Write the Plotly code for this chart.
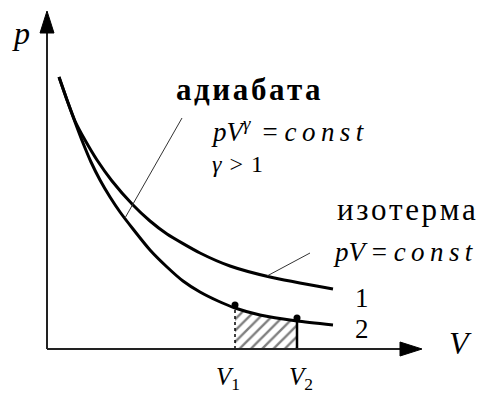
import plotly.graph_objects as go

# Curve 1: isotherm pV = const  (V, p in drawing units)
iso_V = [1.2, 2.0, 2.8, 3.8, 5.0, 6.5, 8.6, 10.3, 12.0, 15.3, 18.3, 22.3, 28.6]
iso_p = [27.2, 24.9, 22.8, 20.9, 18.9, 16.8, 14.4, 12.8, 11.5, 9.6, 8.3, 7.2, 6.0]

# Curve 2: adiabat pV^γ = const
adi_V = [1.2, 2.0, 2.8, 3.6, 4.4, 5.3, 6.3, 7.3, 8.6, 10.3, 12.0, 13.6, 15.3, 17.1,
         18.8, 21.3, 25.0, 28.6]
adi_p = [27.2, 24.9, 22.7, 20.6, 18.7, 16.9, 15.2, 13.7, 12.0, 9.9, 8.2, 6.8, 5.7, 4.8,
         4.1, 3.4, 2.8, 2.4]

# Work done between V1 and V2 on the adiabat
V1, V2 = 18.8, 25.0

# Axis extents
V_axis_end, p_axis_end = 35.3, 31.6
head_len, head_half = 2.2, 0.7

SERIF = "Liberation Serif, Times New Roman, serif"
TS = "\u2009"   # thin space
HS = "\u200a"   # hair space
fig = go.Figure()

# hatched area under the adiabat from V1 to V2
i1, i2 = adi_V.index(V1), adi_V.index(V2)
hx = [V1] + adi_V[i1:i2 + 1] + [V2]
hy = [0] + adi_p[i1:i2 + 1] + [0]
fig.add_trace(go.Scatter(
    x=hx, y=hy, mode="lines", fill="toself", line=dict(width=0),
    fillcolor="white",
    fillpattern=dict(shape="/", fgcolor="black", bgcolor="white", size=8, solidity=0.3),
    hoverinfo="skip"))
# vertical edges of the area
fig.add_trace(go.Scatter(x=[V1, V1], y=[0, adi_p[i1]], mode="lines",
                         line=dict(color="black", width=1.5, dash="dot"), hoverinfo="skip"))
fig.add_trace(go.Scatter(x=[V2, V2], y=[0, adi_p[i2]], mode="lines",
                         line=dict(color="black", width=2.5), hoverinfo="skip"))

# axes with arrowheads
fig.add_trace(go.Scatter(x=[0, V_axis_end], y=[0, 0], mode="lines",
                         line=dict(color="#222", width=2), hoverinfo="skip"))
fig.add_trace(go.Scatter(x=[0, 0], y=[0, p_axis_end], mode="lines",
                         line=dict(color="#222", width=2), hoverinfo="skip"))
fig.add_trace(go.Scatter(
    x=[V_axis_end, V_axis_end + head_len, V_axis_end, V_axis_end],
    y=[head_half, 0, -head_half, head_half],
    mode="lines", fill="toself", fillcolor="black", line=dict(color="black", width=1),
    hoverinfo="skip"))
fig.add_trace(go.Scatter(
    x=[-head_half, 0, head_half, -head_half],
    y=[p_axis_end, p_axis_end + head_len, p_axis_end, p_axis_end],
    mode="lines", fill="toself", fillcolor="black", line=dict(color="black", width=1),
    hoverinfo="skip"))

# curves
fig.add_trace(go.Scatter(x=iso_V, y=iso_p, mode="lines",
                         line=dict(color="black", width=3, shape="spline", smoothing=0.6),
                         hoverinfo="skip"))
fig.add_trace(go.Scatter(x=adi_V, y=adi_p, mode="lines",
                         line=dict(color="black", width=3, shape="spline", smoothing=0.6),
                         hoverinfo="skip"))
# points V1, V2 on the adiabat
fig.add_trace(go.Scatter(x=[V1, V2], y=[adi_p[i1] + 0.3, adi_p[i2] + 0.3], mode="markers",
                         marker=dict(color="black", size=7), hoverinfo="skip"))

# leader lines from labels to curves
fig.add_trace(go.Scatter(x=[13.5, 7.8], y=[23.1, 13.1], mode="lines",
                         line=dict(color="#333", width=1), hoverinfo="skip"))
fig.add_trace(go.Scatter(x=[22.0, 26.3], y=[7.3, 9.6], mode="lines",
                         line=dict(color="#333", width=1), hoverinfo="skip"))


def label(x, y, text, size):
    fig.add_annotation(x=x, y=y, text=text, showarrow=False,
                       xanchor="center", yanchor="middle",
                       font=dict(family=SERIF, size=size, color="black"))


def spaced(word, sep):
    return sep.join(word)


const_txt = "<i>" + spaced("const", TS) + "</i>"
label(-2.6, 31.6, "<i>p</i>", 32)
label(41.3, 0.6, "<i>V</i>", 32)
label(20.1, 26.0, "<b>" + spaced("адиабата", HS) + "</b>", 31)
label(24.1, 21.9, "<i>pV</i><sup><i>γ</i></sup>" + TS + " = " + const_txt, 27)
label(19.0, 18.5, "<i>γ</i>" + HS + " > " + HS + "1", 24)
label(35.9, 14.0, spaced("изотерма", HS), 31)
label(35.6, 9.7, "<i>pV</i> = " + const_txt, 27)
label(31.5, 5.1, "1", 27)
label(31.5, 2.0, "2", 27)
label(18.1, -2.9, "<i>V</i><sub>1</sub>", 25)
label(25.4, -2.9, "<i>V</i><sub>2</sub>", 25)

fig.update_layout(
    width=481, height=394, margin=dict(l=0, r=0, t=0, b=0),
    paper_bgcolor="white", plot_bgcolor="white", showlegend=False,
    xaxis=dict(range=[-4.7, 43.4], visible=False, fixedrange=True),
    yaxis=dict(range=[-4.5, 34.9], visible=False, fixedrange=True),
)

fig.write_html("out.html")
